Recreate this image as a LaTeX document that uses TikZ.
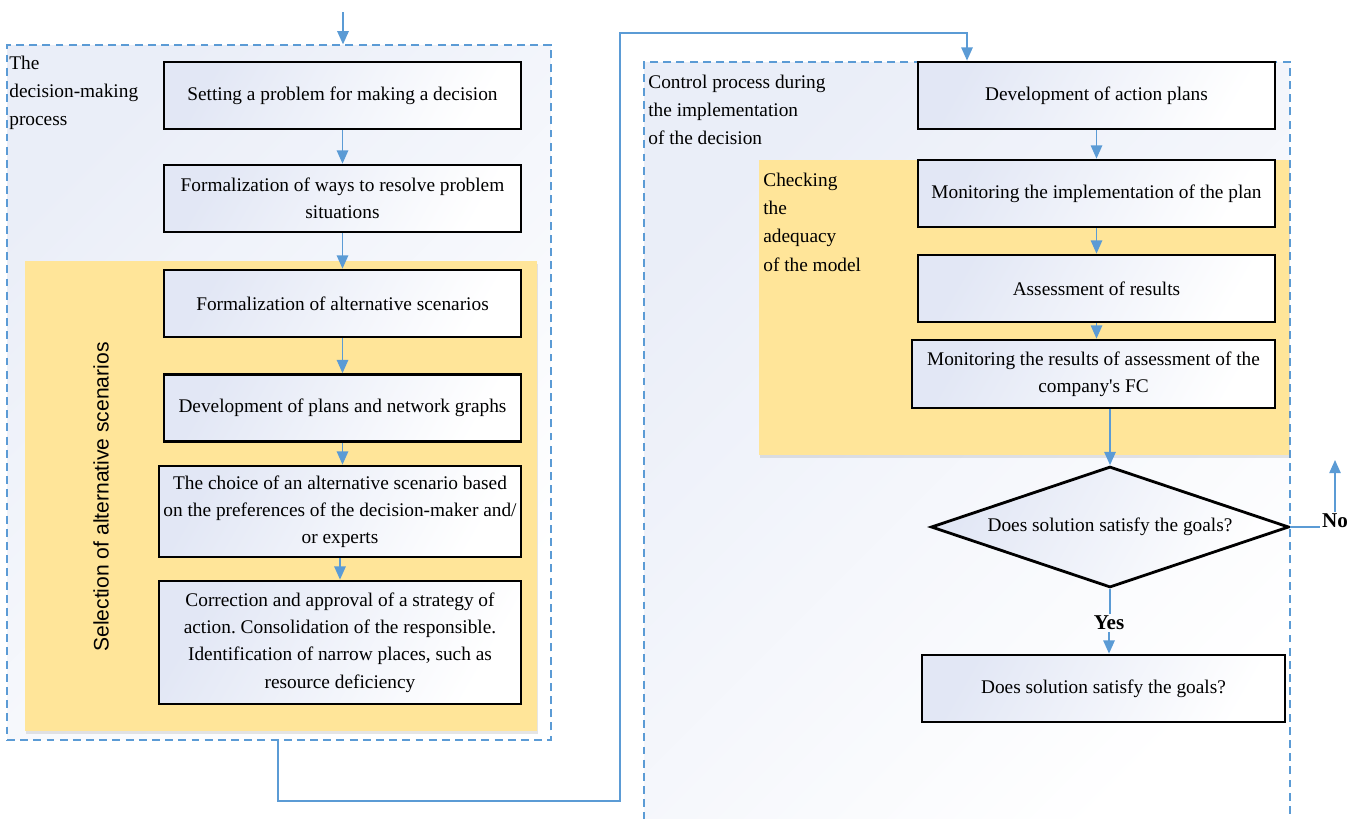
\documentclass[tikz,border=0pt]{standalone}
\usepackage{fontspec}
\setmainfont{Liberation Serif}
\setsansfont{Liberation Sans}
\usetikzlibrary{positioning,arrows.meta,shapes.geometric,shadows}
\frenchspacing

\definecolor{flowblue}{RGB}{91,155,213}
\definecolor{panelyellow}{RGB}{255,229,153}
\definecolor{boxtint}{RGB}{226,231,245}
\definecolor{frametint}{RGB}{234,238,248}

\begin{document}
\begin{tikzpicture}[x=0.02cm, y=-0.02cm,
    font=\fontsize{11}{15.5}\selectfont,
    groupframe/.style={draw=flowblue, dash pattern=on 4.5pt off 3pt, line width=0.8pt,
        top color=frametint, bottom color=white, shading angle=45},
    panel/.style={fill=panelyellow, drop shadow={shadow xshift=0.5pt, shadow yshift=-1.5pt, opacity=0.2}},
    box/.style={draw, line width=1.6pt, top color=boxtint, bottom color=white, shading angle=60,
        minimum width=7.14cm, minimum height=1.34cm, align=center, inner sep=2pt},
    decision/.style={diamond, draw, line width=1.6pt, top color=boxtint, bottom color=white, shading angle=60,
        aspect=2.96, minimum width=7.16cm, minimum height=2.42cm, inner sep=0pt},
    grouptitle/.style={anchor=north west, align=left, inner sep=0pt, font=\fontsize{11}{16}\selectfont},
    answer/.style={inner sep=1pt, font=\bfseries\fontsize{12}{14}\selectfont},
    flow/.style={draw=flowblue, line width=0.8pt, -{Triangle[width=6.5pt,length=7.5pt]}}]

    \useasboundingbox (0,0) rectangle (1358,818);

    % groups
    \node[groupframe, minimum width=10.88cm, minimum height=13.9cm] (leftframe) at (279,392.5) {};
    \node[groupframe, minimum width=12.92cm, minimum height=15.56cm] (rightframe) at (967,451) {};
    \node[panel, minimum width=10.24cm, minimum height=9.4cm] (leftpanel) at (281,496) {};
    \node[panel, minimum width=10.6cm, minimum height=5.9cm] (rightpanel) at (1024,307.5) {};

    \node[grouptitle] (lefttitle) at (9,56) {The\\decision-making\\process};
    \node[grouptitle] (righttitle) at (648,75) {Control process during\\the implementation\\of the decision};
    \node[grouptitle] (checktitle) at (763,173) {Checking\\the\\adequacy\\of the model};
    \node[rotate=90, font=\sffamily\fontsize{12}{14}\selectfont] (selecttitle) at (101,497) {Selection of alternative scenarios};

    % left column
    \node[box] (b1) at (342.5,95.5) {Setting a problem for making a decision};
    \node[box] (b2) at (342.5,198.5) {Formalization of ways to resolve problem\\situations};
    \node[box] (b3) at (342.5,303.5) {Formalization of alternative scenarios};
    \node[box] (b4) at (342.5,408) {Development of plans and network graphs};
    \node[box, minimum width=7.24cm, minimum height=1.82cm] (b5) at (340,511.5)
        {The choice of an alternative scenario based\\on the preferences of the decision-maker and/\\or experts};
    \node[box, minimum width=7.24cm, minimum height=2.46cm] (b6) at (340,642.5)
        {Correction and approval of a strategy of\\action. Consolidation of the responsible.\\Identification of narrow places, such as\\resource deficiency};

    % right column
    \node[box] (r1) at (1096.5,95.5) {Development of action plans};
    \node[box] (r2) at (1096.5,193.5) {Monitoring the implementation of the plan};
    \node[box] (r3) at (1096.5,288.5) {Assessment of results};
    \node[box, minimum width=7.26cm, minimum height=1.36cm] (r4) at (1093.5,374)
        {Monitoring the results of assessment of the\\company\textquotesingle s FC};
    \node[decision] (dia) at (1110,527) {Does solution satisfy the goals?};
    \node[box, minimum width=7.26cm] (r5) at (1103.5,688.5) {Does solution satisfy the goals?};

    \node[answer] (yes) at (1109,623) {Yes};
    \node[answer] (no) at (1335,521) {No};

    % connectors
    \coordinate (entry) at (343,12);
    \coordinate (loopL) at (278,801);
    \coordinate (loopR) at (620,33);
    \coordinate (entryR) at (967,33);
    \coordinate (noup) at (1334,460);

    \draw[flow] (entry) -- (entry |- leftframe.north);
    \draw[flow] (b1) -- (b2);
    \draw[flow] (b2) -- (b3);
    \draw[flow] (b3) -- (b4);
    \draw[flow] (b4.south) -- (b4.south |- b5.north);
    \draw[flow] (b5) -- (b6);
    \draw[flow] (leftframe.south -| loopL) |- (loopR |- loopL) |- (entryR) -- (entryR |- r1.north);
    \draw[flow] (r1) -- (r2);
    \draw[flow] (r2) -- (r3);
    \draw[flow] (r3.south) -- (r3.south |- r4.north);
    \draw[flow] (dia.north |- r4.south) -- (dia.north);
    \draw[flow, -] (dia.south) -- (dia.south |- yes.north);
    \draw[flow] (yes.south) -- (yes.south |- r5.north);
    \draw[flow, -] (dia.east) -- (dia.east -| no.west);
    \draw[flow] (no.north) -- (no.north |- noup);
\end{tikzpicture}
\end{document}
